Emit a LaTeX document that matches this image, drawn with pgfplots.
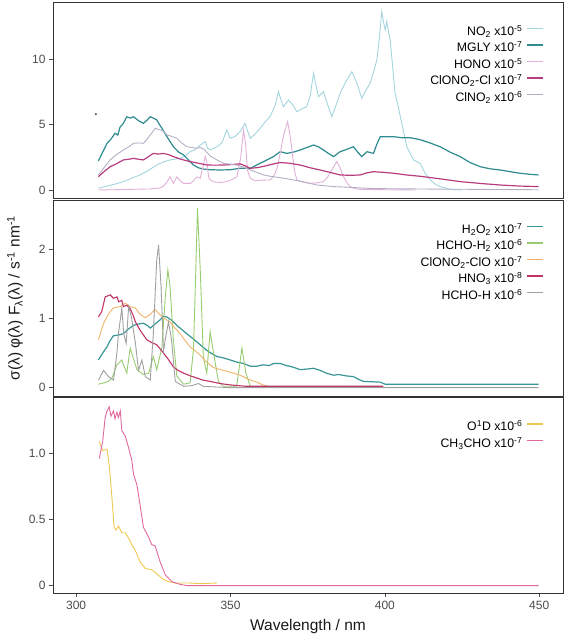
\documentclass[border=0pt]{standalone}
\usepackage{pgfplots}
\pgfplotsset{compat=1.18}
\usepackage{fontspec}
\setmainfont{Liberation Sans}

\definecolor{cNO}{HTML}{A3D5DE}
\definecolor{cMGLY}{HTML}{2E8B8F}
\definecolor{cHONO}{HTML}{E0B0D8}
\definecolor{cClCl}{HTML}{B83C80}
\definecolor{cClNO}{HTML}{B4AEC4}
\definecolor{cHHO}{HTML}{3A9696}
\definecolor{cHCHOa}{HTML}{98CC70}
\definecolor{cClClO}{HTML}{F0B468}
\definecolor{cHNO}{HTML}{C03468}
\definecolor{cHCHOb}{HTML}{A0A0A0}
\definecolor{cOD}{HTML}{F0C850}
\definecolor{cCH}{HTML}{E0689C}

\begin{document}
\begin{tikzpicture}
\useasboundingbox (0pt,0pt) rectangle (567pt,637pt);
\pgfplotsset{
  panel/.style={
    scale only axis, width=510pt, height=196pt,
    xmin=292.5, xmax=457.7,
    axis line style={draw=black!80, line width=0.8pt},
    tick style={draw=black!70, line width=0.6pt},
    tick align=outside, major tick length=4pt,
    ticklabel style={font=\fontsize{12}{14}\selectfont, text=black!70},
    ytick pos=left, xtick pos=bottom,
    legend cell align=right,
    legend plot pos=right,
    legend style={draw=none, fill=none, at={(0.963,0.889)}, anchor=north east,
      font=\fontsize{12.3}{14}\selectfont, row sep=0pt, column sep=3pt, inner sep=0pt,
      nodes={inner sep=1pt, text height=10.5pt, text depth=4pt}},
    legend image code/.code={\draw[#1] (0pt,3.6pt) -- (16pt,3.6pt);},
    legend image post style={line width=1.6pt},
    every axis plot/.append style={line width=0.9pt},
    /pgf/number format/assume math mode=true,
  },
}

% ---------------- top panel ----------------
\begin{axis}[panel, at={(53pt,439pt)}, anchor=south west,
  ymin=-0.612, ymax=14.38, ytick={0,5,10}, xtick=\empty]
\addplot[color=cNO] coordinates {(307.2,0.13)(310,0.3)(312.6,0.45)(315.3,0.64)(318,0.9)(320.7,1.15)(323.4,1.5)(326.1,1.91)(328.3,2.15)(330.4,2.3)(333.7,2.42)(335.3,2.6)(336.9,2.93)(338.6,3.1)(340.2,3.44)(341.8,3.7)(342.6,3.2)(343.4,3.06)(345.6,3.31)(347.2,3.6)(348.8,4.59)(349.9,3.95)(351.5,4.1)(353.1,4.46)(354.7,5.1)(356.4,3.95)(358,4.3)(359.6,4.72)(361.2,5.2)(362.8,5.61)(364.5,6.5)(365.5,7.52)(367.1,6.37)(368.8,6.89)(370.2,6.5)(371.5,5.99)(373.1,6.2)(374.7,6.37)(375.8,7.2)(376.9,8.93)(377.7,8.0)(378.5,7.14)(380.1,7.52)(381.5,6.5)(382.8,5.61)(384.2,6.5)(385.5,7.4)(387.4,8.3)(389.3,9.05)(390.9,8.2)(392.5,7.01)(393.8,7.6)(395.2,8.16)(396.3,9.0)(397.4,9.95)(398.3,11.8)(399.0,13.64)(399.6,12.8)(400.1,12.24)(400.6,12.88)(401.7,11.48)(402.5,9.5)(403.3,7.4)(404.2,6.5)(405.0,5.61)(407.1,3.31)(409.3,2.3)(411.4,2.04)(413,1.3)(414.7,0.77)(416.3,0.45)(417.9,0.26)(421.2,0.05)(425,0.0)};
\addlegendentry{NO\textsubscript{2} x10\textsuperscript{-5}}
\addplot[color=cMGLY, line width=1.2pt] coordinates {(307.2,2.22)(308.6,2.9)(310,3.57)(311.3,3.9)(312.6,4.34)(313.5,4.2)(314.2,4.8)(315.3,5.1)(316.4,5.6)(317.5,5.5)(318.6,5.6)(320.2,5.3)(321.8,5.1)(323,5.35)(324,5.6)(325,5.5)(326.1,5.36)(327,5.0)(327.8,4.72)(329.4,4.08)(331.5,3.31)(333.2,2.9)(334.8,2.68)(336.4,2.3)(338,1.91)(339.6,1.7)(341.2,1.6)(343.4,1.55)(346.6,1.53)(349.9,1.55)(353.1,1.66)(356.4,1.66)(358,1.85)(359.6,2.04)(361.8,2.3)(363.9,2.55)(366.1,2.93)(368.3,2.8)(370.4,2.9)(372.6,3.06)(374.7,3.25)(376.9,3.44)(378.5,3.3)(380.1,3.06)(381.7,2.8)(383.4,2.55)(385.5,2.93)(387.6,3.1)(389.8,3.31)(391.2,2.9)(392.5,2.55)(394.2,2.93)(396.3,2.8)(397.4,3.5)(398.5,4.08)(402.8,4.08)(405.5,4.0)(408.2,4.0)(411.4,3.85)(414.6,3.6)(417.9,3.31)(421.1,2.9)(424.4,2.55)(427.6,2.1)(430.9,1.78)(434.1,1.62)(437.4,1.53)(440.6,1.4)(443.8,1.28)(447,1.2)(449.8,1.15)};
\addlegendentry{MGLY x10\textsuperscript{-7}}
\addplot[color=cHONO] coordinates {(307.2,0.0)(312,0.02)(318,0.05)(324,0.08)(327.2,0.15)(328.3,0.3)(329.4,0.6)(330.4,1.02)(331.5,0.51)(332.6,1.0)(333.7,0.7)(334.8,0.51)(337,0.5)(338,0.7)(339.1,1.0)(340.2,0.9)(341.3,2.0)(341.8,2.55)(342.3,2.2)(342.9,1.02)(343.4,0.77)(345,0.6)(347,0.58)(348.8,0.64)(350.5,0.8)(352.1,1.02)(353.3,2.5)(354.2,4.59)(354.9,3.5)(355.5,1.5)(356.4,0.9)(358,0.7)(360,0.75)(362.8,0.77)(363.9,1.02)(365,1.6)(366.1,2.8)(367.2,4.2)(368.5,5.23)(369.2,4.3)(369.9,3.06)(370.7,1.5)(371.5,0.77)(373.5,0.6)(375.8,0.51)(378,0.55)(380.1,0.64)(381.5,1.0)(382.8,1.53)(384.4,2.17)(385.5,1.7)(386.6,1.02)(387.6,0.6)(388.7,0.26)(390.3,0.1)(392,0.05)(400,0.02)(410,0.0)};
\addlegendentry{HONO x10\textsuperscript{-5}}
\addplot[color=cClCl, line width=1.2pt] coordinates {(307.2,1.02)(309,1.4)(311,1.78)(313,2.0)(315.3,2.3)(317,2.35)(318.6,2.42)(320.2,2.35)(321.8,2.3)(323.4,2.55)(325,2.8)(326.6,2.75)(328.3,2.8)(330,2.7)(331.5,2.55)(334,2.35)(336.9,2.17)(339.6,2.05)(342.3,1.91)(345,1.9)(347.7,1.91)(350.5,1.95)(353.1,2.0)(354.7,1.85)(356.4,1.66)(359,1.72)(361.8,1.87)(364,2.0)(366.1,2.1)(369,2.05)(372.6,1.91)(375.8,1.7)(379,1.53)(382.2,1.35)(385.5,1.15)(389,1.12)(392,1.15)(394,1.3)(396.3,1.4)(399.5,1.35)(402.8,1.28)(407,1.15)(411.4,1.05)(418,0.85)(424.4,0.64)(431,0.5)(437.4,0.38)(443.8,0.3)(449.8,0.26)};
\addlegendentry{ClONO\textsubscript{2}-Cl x10\textsuperscript{-7}}
\addplot[color=cClNO] coordinates {(307.2,1.15)(309,1.7)(311,2.3)(313,2.7)(315.3,3.06)(317,3.3)(318.6,3.57)(320.2,3.6)(321.8,3.57)(323,3.9)(324,4.21)(325.6,4.72)(327.2,4.6)(328.3,4.5)(329.4,4.21)(331,4.1)(332.6,3.95)(334.2,3.6)(335.8,3.31)(337.5,3.25)(339.1,3.19)(340.2,3.25)(341.5,3.1)(343.4,2.6)(345.6,2.3)(347.7,2.04)(350,1.97)(352,1.91)(354.2,1.75)(356.4,1.53)(358.5,1.35)(360.7,1.15)(362.8,1.05)(366,0.95)(370.4,0.77)(374,0.6)(378,0.38)(383.4,0.26)(389,0.2)(394.2,0.13)(400,0.1)(410,0.08)(420,0.06)(430,0.05)(440,0.03)(449.8,0.02)};
\addlegendentry{ClNO\textsubscript{2} x10\textsuperscript{-6}}
\addplot[only marks, mark=*, mark size=0.5pt, black!70, forget plot] coordinates {(306.4,5.8)};
\end{axis}

% ---------------- middle panel ----------------
\begin{axis}[panel, at={(53pt,241pt)}, anchor=south west,
  ymin=-0.12, ymax=2.709, ytick={0,1,2}, xtick=\empty]
\addplot[color=cHHO, line width=1.2pt] coordinates {(307.2,0.40)(308.6,0.5)(310,0.59)(311,0.68)(312.1,0.75)(313.7,0.76)(315.3,0.78)(317,0.85)(318.6,0.9)(320.2,0.92)(321.8,0.93)(323,0.9)(324,0.86)(325.6,0.92)(327.2,0.98)(328.3,1.03)(329.4,1.02)(331,0.97)(332.6,0.9)(334.2,0.84)(335.8,0.78)(337.5,0.72)(339.1,0.66)(340.7,0.6)(342.3,0.54)(344,0.49)(345.6,0.45)(347.7,0.43)(349.9,0.4)(352,0.37)(354.2,0.35)(356.4,0.31)(358.5,0.31)(360.5,0.33)(362.5,0.32)(364,0.35)(366.1,0.35)(368,0.32)(370,0.3)(372.6,0.26)(375,0.27)(376.9,0.28)(379,0.25)(381,0.21)(383.4,0.18)(385,0.19)(387.5,0.17)(389.8,0.16)(391.5,0.12)(393.1,0.09)(396,0.085)(398.5,0.08)(400.1,0.05)(410,0.05)(420,0.05)(430,0.05)(440,0.05)(449.8,0.05)};
\addlegendentry{H\textsubscript{2}O\textsubscript{2} x10\textsuperscript{-7}}
\addplot[color=cHCHOa] coordinates {(307.2,0.05)(309,0.07)(310.4,0.09)(311.6,0.14)(313.2,0.33)(314.8,0.40)(315.6,0.3)(316.4,0.21)(317.5,0.57)(318.2,0.47)(319.7,0.26)(321.8,0.19)(323.5,0.21)(325,0.45)(326.1,0.26)(327.8,0.59)(328.8,1.27)(329.7,1.70)(330.4,1.46)(331.5,0.69)(332.6,0.17)(334.8,0.05)(336.9,0.07)(338,0.55)(338.7,1.6)(339.3,2.59)(340.2,1.7)(341.2,0.44)(342.3,0.21)(343.4,0.81)(344.5,0.5)(346.1,0.09)(347.7,0.02)(352,0.02)(353.7,0.57)(355,0.21)(356.4,0.02)(358,0.01)};
\addlegendentry{HCHO-H\textsubscript{2} x10\textsuperscript{-6}}
\addplot[color=cClClO] coordinates {(307.2,0.69)(308.9,0.93)(310.4,1.06)(312,1.15)(314.2,1.17)(315.9,1.22)(317.5,1.17)(319.2,1.15)(320.7,1.06)(322.4,1.01)(324,1.06)(325.6,1.13)(327,1.06)(328.5,1.0)(330.4,0.95)(332,0.86)(333.7,0.78)(335.3,0.68)(336.9,0.59)(338.6,0.53)(340.2,0.47)(342,0.38)(344.5,0.29)(347.7,0.25)(351,0.21)(353.1,0.18)(356.4,0.11)(358.5,0.08)(360.5,0.04)(362.8,0.01)(364,0.0)};
\addlegendentry{ClONO\textsubscript{2}-ClO x10\textsuperscript{-7}}
\addplot[color=cHNO, line width=1.1pt] coordinates {(307.2,1.02)(308.3,1.1)(309.4,1.31)(311,1.34)(312.1,1.29)(313.2,1.31)(313.8,1.24)(314.8,1.26)(315.3,1.17)(316.4,1.19)(317.5,1.14)(318.4,1.05)(319.2,0.95)(320.7,0.83)(322.9,0.69)(324.5,0.65)(326.1,0.62)(328.3,0.50)(330,0.4)(331.5,0.30)(333,0.25)(334.8,0.21)(337,0.17)(339.1,0.14)(341,0.11)(343.4,0.09)(346.6,0.06)(349.9,0.04)(355,0.02)(370,0.02)(385,0.02)(399.5,0.02)};
\addlegendentry{HNO\textsubscript{3} x10\textsuperscript{-8}}
\addplot[color=cHCHOb] coordinates {(307.2,0.11)(308.9,0.25)(310.5,0.16)(312.1,0.11)(313.2,0.5)(313.7,0.78)(314.8,1.15)(315.4,0.78)(316.2,0.64)(317,1.17)(317.9,1.02)(319.2,0.64)(320.2,0.25)(321.3,0.40)(322.4,0.16)(324,0.11)(325,0.78)(326.1,1.84)(326.7,2.06)(327.5,1.46)(328.3,0.54)(329,0.73)(329.9,0.95)(330.9,0.69)(332.1,0.09)(334.8,0.02)(337.5,0.03)(339.6,0.06)(341.2,0.02)(350,0.0)(370,0.0)(400,0.0)(449.8,0.0)};
\addlegendentry{HCHO-H x10\textsuperscript{-6}}
\end{axis}

% ---------------- bottom panel ----------------
\begin{axis}[panel, at={(53pt,43.5pt)}, anchor=south west,
  ymin=-0.059, ymax=1.421, ytick={0,0.5,1}, yticklabels={0,0.5,1.0},
  xtick={300,350,400,450}]
\addplot[color=cOD] coordinates {(307.5,1.09)(308.6,1.02)(310,1.03)(310.8,0.89)(311.6,0.66)(312.3,0.44)(312.9,0.42)(313.7,0.45)(314.8,0.40)(315.9,0.40)(317,0.36)(318,0.31)(319.1,0.27)(320.7,0.18)(322.4,0.13)(324.5,0.12)(326.1,0.09)(328,0.05)(330,0.03)(332,0.02)(336.9,0.02)(340,0.015)(345.6,0.02)};
\addlegendentry{O\textsuperscript{1}D x10\textsuperscript{-6}}
\addplot[color=cCH] coordinates {(307.5,0.96)(308.6,1.09)(309.4,1.27)(310,1.32)(310.7,1.35)(311.3,1.28)(312.1,1.32)(312.6,1.26)(313.2,1.31)(313.7,1.27)(314.3,1.32)(314.8,1.17)(315.9,1.13)(317,1.04)(318,0.95)(318.6,0.84)(319.7,0.76)(320.7,0.61)(321.8,0.44)(323.4,0.37)(324.5,0.31)(325.6,0.30)(327.2,0.18)(328.9,0.08)(331,0.03)(333.7,0.01)(336,0.0)(350,0.0)(400,0.0)(449.8,0.0)};
\addlegendentry{CH\textsubscript{3}CHO x10\textsuperscript{-7}}
\end{axis}

\node[font=\fontsize{15.5}{18}\selectfont, text=black!90] at (308pt,10.5pt) {Wavelength / nm};
\node[font=\fontsize{15.5}{18}\selectfont, text=black!90, rotate=90] at (15pt,339pt) {σ(λ) φ(λ) F\textsubscript{λ}(λ) / s\textsuperscript{-1} nm\textsuperscript{-1}};
\end{tikzpicture}
\end{document}
